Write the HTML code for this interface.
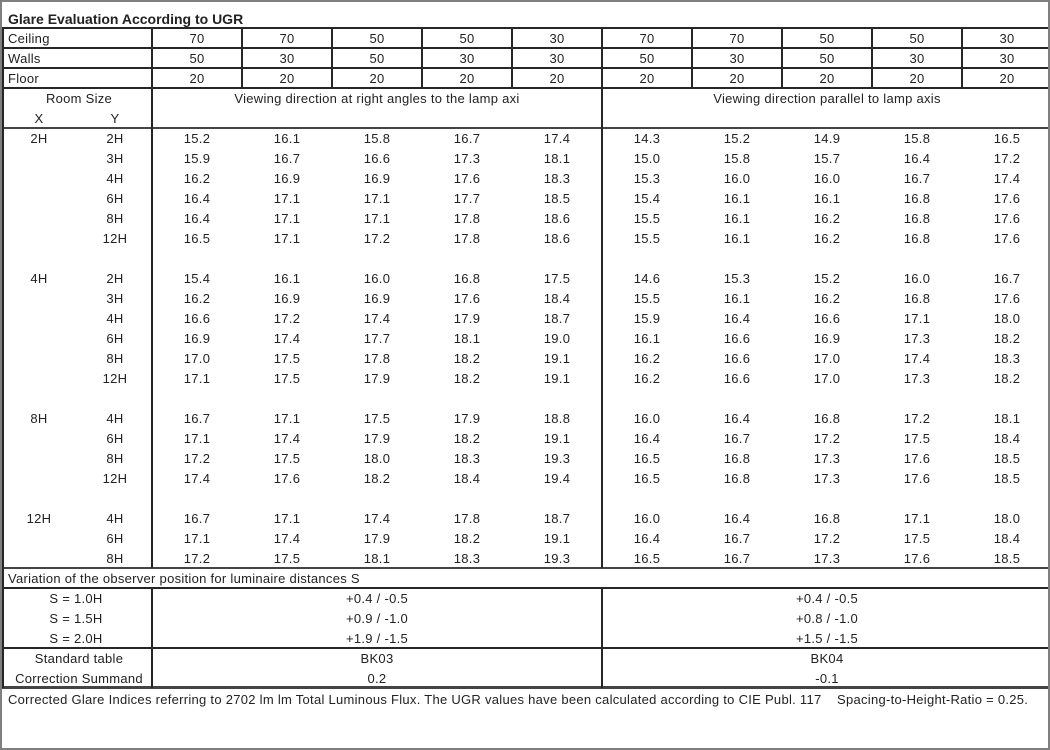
<!DOCTYPE html>
<html>
<head>
<meta charset="utf-8">
<style>
html,body{margin:0;padding:0;}
body{width:1050px;height:750px;position:relative;overflow:hidden;background:#fff;font-family:"Liberation Sans",Arial,sans-serif;font-size:13px;color:#222;letter-spacing:0.28px;}
.r{position:absolute;left:0;height:20px;line-height:20px;display:flex;white-space:nowrap;}
.r span{display:block;text-align:center;flex:none;width:90px;}
.r .x{width:78px;}
.r .y{width:74px;}
.r .l{width:144px;padding-left:8px;text-align:left;}
.r .w{width:450px;}
.r .rs{width:150px;margin-left:4px;}
.r .lb{width:152px;}
.h{position:absolute;left:2px;width:1046px;height:2px;background:#262626;}
.v{position:absolute;width:2px;background:#262626;}
.g{background:#444;}
.t{position:absolute;left:8px;top:9px;font-weight:bold;font-size:14px;line-height:20px;letter-spacing:0;}
.f{position:absolute;left:8px;top:690px;line-height:20px;white-space:pre;}
.outer{position:absolute;left:0;top:0;width:1046px;height:746px;border:2px solid #7f7f7f;}
</style>
</head>
<body>
<div class="outer"></div>

<div class="h" style="top:27px"></div>
<div class="h" style="top:47px"></div>
<div class="h" style="top:67px"></div>
<div class="h" style="top:87px"></div>
<div class="h g" style="top:127px"></div>
<div class="h g" style="top:567px"></div>
<div class="h" style="top:587px"></div>
<div class="h" style="top:647px"></div>
<div class="h g" style="top:686px;height:3px"></div>

<div class="v" style="left:2px;top:27px;height:661px"></div>
<div class="v" style="left:151px;top:27px;height:541px"></div>
<div class="v" style="left:151px;top:587px;height:101px"></div>
<div class="v" style="left:601px;top:27px;height:541px"></div>
<div class="v" style="left:601px;top:587px;height:101px"></div>
<div class="v" style="left:241px;top:27px;height:62px"></div>
<div class="v" style="left:331px;top:27px;height:62px"></div>
<div class="v" style="left:421px;top:27px;height:62px"></div>
<div class="v" style="left:511px;top:27px;height:62px"></div>
<div class="v" style="left:691px;top:27px;height:62px"></div>
<div class="v" style="left:781px;top:27px;height:62px"></div>
<div class="v" style="left:871px;top:27px;height:62px"></div>
<div class="v" style="left:961px;top:27px;height:62px"></div>

<div class="t">Glare Evaluation According to UGR</div>

<div class="r" style="top:29px"><span class="l">Ceiling</span><span>70</span><span>70</span><span>50</span><span>50</span><span>30</span><span>70</span><span>70</span><span>50</span><span>50</span><span>30</span></div>
<div class="r" style="top:49px"><span class="l">Walls</span><span>50</span><span>30</span><span>50</span><span>30</span><span>30</span><span>50</span><span>30</span><span>50</span><span>30</span><span>30</span></div>
<div class="r" style="top:69px"><span class="l">Floor</span><span>20</span><span>20</span><span>20</span><span>20</span><span>20</span><span>20</span><span>20</span><span>20</span><span>20</span><span>20</span></div>

<div class="r" style="top:89px"><span class="rs">Room Size</span><span class="w" style="margin-left:-2px">Viewing direction at right angles to the lamp axi</span><span class="w">Viewing direction parallel to lamp axis</span></div>
<div class="r" style="top:109px"><span class="x">X</span><span class="y">Y</span></div>

<div class="r" style="top:129px"><span class="x">2H</span><span class="y">2H</span><span>15.2</span><span>16.1</span><span>15.8</span><span>16.7</span><span>17.4</span><span>14.3</span><span>15.2</span><span>14.9</span><span>15.8</span><span>16.5</span></div>
<div class="r" style="top:149px"><span class="x"></span><span class="y">3H</span><span>15.9</span><span>16.7</span><span>16.6</span><span>17.3</span><span>18.1</span><span>15.0</span><span>15.8</span><span>15.7</span><span>16.4</span><span>17.2</span></div>
<div class="r" style="top:169px"><span class="x"></span><span class="y">4H</span><span>16.2</span><span>16.9</span><span>16.9</span><span>17.6</span><span>18.3</span><span>15.3</span><span>16.0</span><span>16.0</span><span>16.7</span><span>17.4</span></div>
<div class="r" style="top:189px"><span class="x"></span><span class="y">6H</span><span>16.4</span><span>17.1</span><span>17.1</span><span>17.7</span><span>18.5</span><span>15.4</span><span>16.1</span><span>16.1</span><span>16.8</span><span>17.6</span></div>
<div class="r" style="top:209px"><span class="x"></span><span class="y">8H</span><span>16.4</span><span>17.1</span><span>17.1</span><span>17.8</span><span>18.6</span><span>15.5</span><span>16.1</span><span>16.2</span><span>16.8</span><span>17.6</span></div>
<div class="r" style="top:229px"><span class="x"></span><span class="y">12H</span><span>16.5</span><span>17.1</span><span>17.2</span><span>17.8</span><span>18.6</span><span>15.5</span><span>16.1</span><span>16.2</span><span>16.8</span><span>17.6</span></div>

<div class="r" style="top:269px"><span class="x">4H</span><span class="y">2H</span><span>15.4</span><span>16.1</span><span>16.0</span><span>16.8</span><span>17.5</span><span>14.6</span><span>15.3</span><span>15.2</span><span>16.0</span><span>16.7</span></div>
<div class="r" style="top:289px"><span class="x"></span><span class="y">3H</span><span>16.2</span><span>16.9</span><span>16.9</span><span>17.6</span><span>18.4</span><span>15.5</span><span>16.1</span><span>16.2</span><span>16.8</span><span>17.6</span></div>
<div class="r" style="top:309px"><span class="x"></span><span class="y">4H</span><span>16.6</span><span>17.2</span><span>17.4</span><span>17.9</span><span>18.7</span><span>15.9</span><span>16.4</span><span>16.6</span><span>17.1</span><span>18.0</span></div>
<div class="r" style="top:329px"><span class="x"></span><span class="y">6H</span><span>16.9</span><span>17.4</span><span>17.7</span><span>18.1</span><span>19.0</span><span>16.1</span><span>16.6</span><span>16.9</span><span>17.3</span><span>18.2</span></div>
<div class="r" style="top:349px"><span class="x"></span><span class="y">8H</span><span>17.0</span><span>17.5</span><span>17.8</span><span>18.2</span><span>19.1</span><span>16.2</span><span>16.6</span><span>17.0</span><span>17.4</span><span>18.3</span></div>
<div class="r" style="top:369px"><span class="x"></span><span class="y">12H</span><span>17.1</span><span>17.5</span><span>17.9</span><span>18.2</span><span>19.1</span><span>16.2</span><span>16.6</span><span>17.0</span><span>17.3</span><span>18.2</span></div>

<div class="r" style="top:409px"><span class="x">8H</span><span class="y">4H</span><span>16.7</span><span>17.1</span><span>17.5</span><span>17.9</span><span>18.8</span><span>16.0</span><span>16.4</span><span>16.8</span><span>17.2</span><span>18.1</span></div>
<div class="r" style="top:429px"><span class="x"></span><span class="y">6H</span><span>17.1</span><span>17.4</span><span>17.9</span><span>18.2</span><span>19.1</span><span>16.4</span><span>16.7</span><span>17.2</span><span>17.5</span><span>18.4</span></div>
<div class="r" style="top:449px"><span class="x"></span><span class="y">8H</span><span>17.2</span><span>17.5</span><span>18.0</span><span>18.3</span><span>19.3</span><span>16.5</span><span>16.8</span><span>17.3</span><span>17.6</span><span>18.5</span></div>
<div class="r" style="top:469px"><span class="x"></span><span class="y">12H</span><span>17.4</span><span>17.6</span><span>18.2</span><span>18.4</span><span>19.4</span><span>16.5</span><span>16.8</span><span>17.3</span><span>17.6</span><span>18.5</span></div>

<div class="r" style="top:509px"><span class="x">12H</span><span class="y">4H</span><span>16.7</span><span>17.1</span><span>17.4</span><span>17.8</span><span>18.7</span><span>16.0</span><span>16.4</span><span>16.8</span><span>17.1</span><span>18.0</span></div>
<div class="r" style="top:529px"><span class="x"></span><span class="y">6H</span><span>17.1</span><span>17.4</span><span>17.9</span><span>18.2</span><span>19.1</span><span>16.4</span><span>16.7</span><span>17.2</span><span>17.5</span><span>18.4</span></div>
<div class="r" style="top:549px"><span class="x"></span><span class="y">8H</span><span>17.2</span><span>17.5</span><span>18.1</span><span>18.3</span><span>19.3</span><span>16.5</span><span>16.7</span><span>17.3</span><span>17.6</span><span>18.5</span></div>

<div class="r" style="top:569px"><span class="l" style="width:600px">Variation of the observer position for luminaire distances S</span></div>

<div class="r" style="top:589px"><span class="lb">S = 1.0H</span><span class="w">+0.4 / -0.5</span><span class="w">+0.4 / -0.5</span></div>
<div class="r" style="top:609px"><span class="lb">S = 1.5H</span><span class="w">+0.9 / -1.0</span><span class="w">+0.8 / -1.0</span></div>
<div class="r" style="top:629px"><span class="lb">S = 2.0H</span><span class="w">+1.9 / -1.5</span><span class="w">+1.5 / -1.5</span></div>
<div class="r" style="top:649px"><span class="lb" style="margin-left:4px;width:150px">Standard table</span><span class="w" style="margin-left:-2px">BK03</span><span class="w">BK04</span></div>
<div class="r" style="top:669px"><span class="lb" style="margin-left:4px;width:150px">Correction Summand</span><span class="w" style="margin-left:-2px">0.2</span><span class="w">-0.1</span></div>

<div class="f">Corrected Glare Indices referring to 2702 lm lm Total Luminous Flux. The UGR values have been calculated according to CIE Publ. 117    Spacing-to-Height-Ratio = 0.25.</div>
</body>
</html>
